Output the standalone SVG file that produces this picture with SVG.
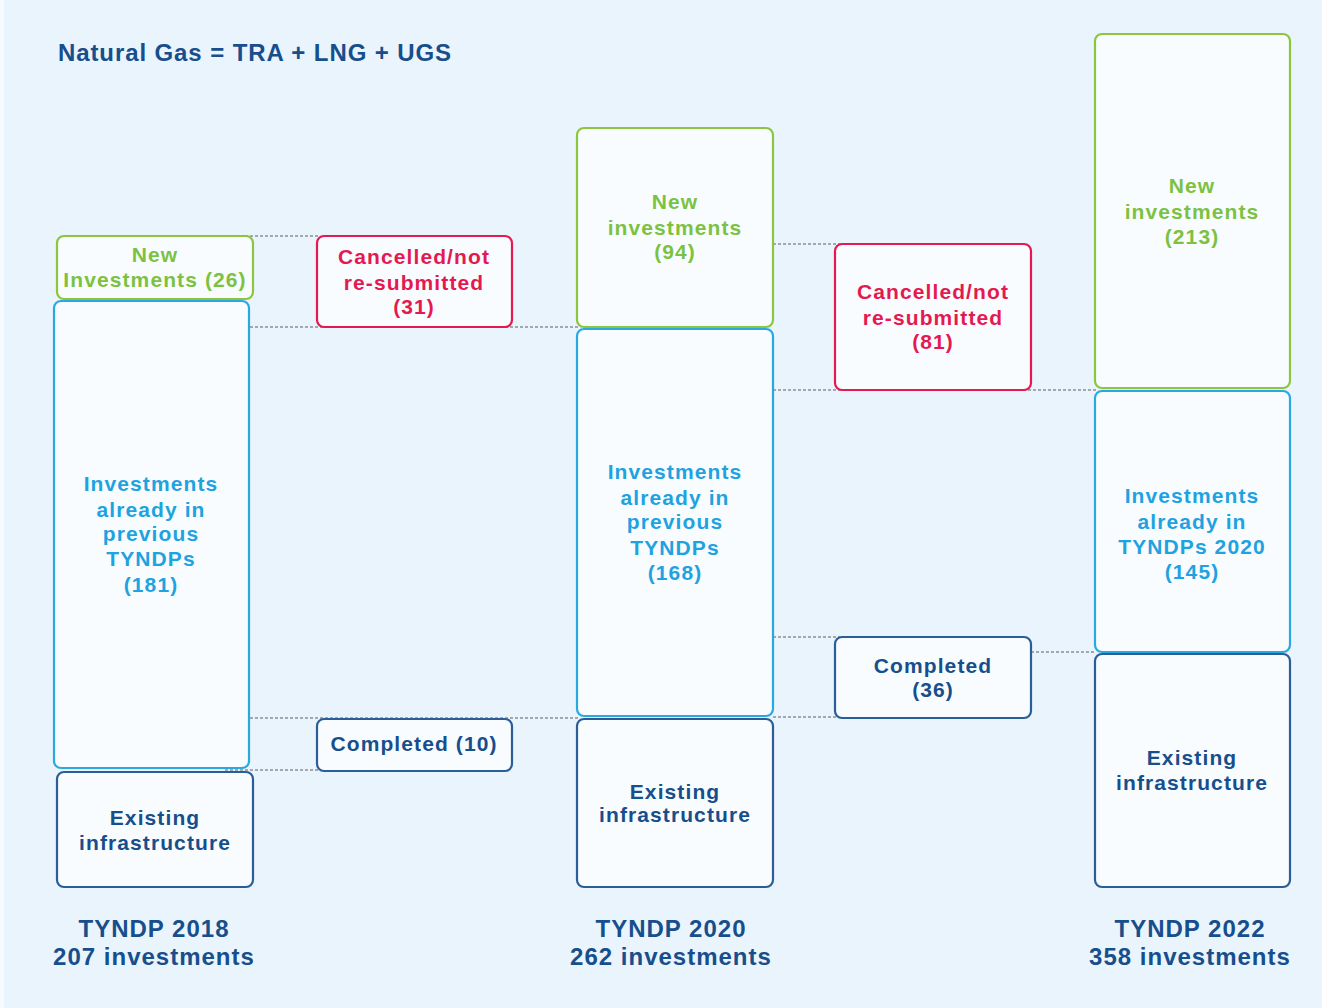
<svg xmlns="http://www.w3.org/2000/svg" width="1322" height="1008" viewBox="0 0 1322 1008">
<style>
text{font-family:"Liberation Sans",Arial,sans-serif;font-weight:bold;text-anchor:middle}
.t{font-size:21px;letter-spacing:1.1px}
.box{fill:#f8fcff;stroke-width:2.2}
.g{stroke:#8cc63f}.gt{fill:#7cc242}
.r{stroke:#e5194f}.rt{fill:#e5194f}
.b{stroke:#29a9e1}.bt{fill:#1fa2e0}
.d{stroke:#2b5d96}.dt{fill:#174e8c}
.dot{stroke:#a3a8ae;stroke-width:2;stroke-dasharray:3 2;fill:none}
.lab{font-size:24px;letter-spacing:1px;fill:#174e8c}
</style>
<rect width="1322" height="1008" fill="#eaf4fd"/>
<rect width="4" height="1008" fill="#f7fbff"/>
<text x="255" y="61" style="font-size:24px;letter-spacing:0.9px;fill:#174e8c">Natural Gas = TRA + LNG + UGS</text>
<g id="connectors">
<line class="dot" x1="225" y1="236" x2="320" y2="236"/>
<line class="dot" x1="250" y1="327" x2="578" y2="327"/>
<line class="dot" x1="250" y1="718" x2="578" y2="718"/>
<line class="dot" x1="225" y1="770" x2="415" y2="770"/>
<line class="dot" x1="773" y1="244" x2="850" y2="244"/>
<line class="dot" x1="773" y1="390" x2="1096" y2="390"/>
<line class="dot" x1="773" y1="637" x2="840" y2="637"/>
<line class="dot" x1="773" y1="717" x2="840" y2="717"/>
<line class="dot" x1="1031" y1="652" x2="1096" y2="652"/>
</g>
<g id="new2018"><rect class="box g" x="57" y="236" width="196" height="63" rx="7"/>
<text class="t gt" x="155" y="262">New</text><text class="t gt" x="155" y="287">Investments (26)</text></g>
<g id="prev2018"><rect class="box b" x="54" y="301" width="195" height="467" rx="7"/>
<text class="t bt" x="151" y="491">Investments</text><text class="t bt" x="151" y="517">already in</text><text class="t bt" x="151" y="541">previous</text><text class="t bt" x="151" y="566">TYNDPs</text><text class="t bt" x="151" y="592">(181)</text></g>
<g id="exist2018"><rect class="box d" x="57" y="772" width="196" height="115" rx="7"/>
<text class="t dt" x="155" y="825">Existing</text><text class="t dt" x="155" y="850">infrastructure</text></g>
<g id="cancel31"><rect class="box r" x="317" y="236" width="195" height="91" rx="7"/>
<text class="t rt" x="414" y="264">Cancelled/not</text><text class="t rt" x="414" y="290">re-submitted</text><text class="t rt" x="414" y="314">(31)</text></g>
<g id="completed10"><rect class="box d" x="317" y="719" width="195" height="52" rx="7"/>
<text class="t dt" x="414" y="751">Completed (10)</text></g>
<g id="new2020"><rect class="box g" x="577" y="128" width="196" height="199" rx="7"/>
<text class="t gt" x="675" y="209">New</text><text class="t gt" x="675" y="235">investments</text><text class="t gt" x="675" y="259">(94)</text></g>
<g id="prev2020"><rect class="box b" x="577" y="329" width="196" height="387" rx="7"/>
<text class="t bt" x="675" y="479">Investments</text><text class="t bt" x="675" y="505">already in</text><text class="t bt" x="675" y="529">previous</text><text class="t bt" x="675" y="555">TYNDPs</text><text class="t bt" x="675" y="580">(168)</text></g>
<g id="exist2020"><rect class="box d" x="577" y="719" width="196" height="168" rx="7"/>
<text class="t dt" x="675" y="799">Existing</text><text class="t dt" x="675" y="822">infrastructure</text></g>
<g id="cancel81"><rect class="box r" x="835" y="244" width="196" height="146" rx="7"/>
<text class="t rt" x="933" y="299">Cancelled/not</text><text class="t rt" x="933" y="325">re-submitted</text><text class="t rt" x="933" y="349">(81)</text></g>
<g id="completed36"><rect class="box d" x="835" y="637" width="196" height="81" rx="7"/>
<text class="t dt" x="933" y="673">Completed</text><text class="t dt" x="933" y="697">(36)</text></g>
<g id="new2022"><rect class="box g" x="1095" y="34" width="195" height="354" rx="7"/>
<text class="t gt" x="1192" y="193">New</text><text class="t gt" x="1192" y="219">investments</text><text class="t gt" x="1192" y="244">(213)</text></g>
<g id="prev2022"><rect class="box b" x="1095" y="391" width="195" height="261" rx="7"/>
<text class="t bt" x="1192" y="503">Investments</text><text class="t bt" x="1192" y="529">already in</text><text class="t bt" x="1192" y="554">TYNDPs 2020</text><text class="t bt" x="1192" y="579">(145)</text></g>
<g id="exist2022"><rect class="box d" x="1095" y="654" width="195" height="233" rx="7"/>
<text class="t dt" x="1192" y="765">Existing</text><text class="t dt" x="1192" y="790">infrastructure</text></g>
<g id="labels">
<text class="lab" x="154" y="937">TYNDP 2018</text><text class="lab" x="154" y="965">207 investments</text>
<text class="lab" x="671" y="937">TYNDP 2020</text><text class="lab" x="671" y="965">262 investments</text>
<text class="lab" x="1190" y="937">TYNDP 2022</text><text class="lab" x="1190" y="965">358 investments</text>
</g>
</svg>
